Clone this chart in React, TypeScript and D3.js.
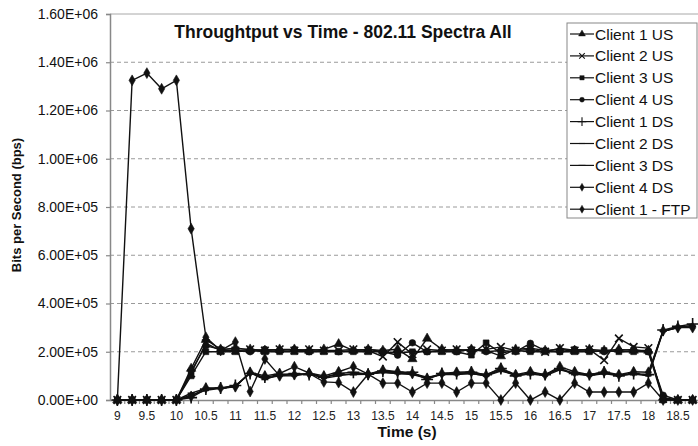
//@ts-nocheck
import * as d3 from "d3";
import React, { useEffect, useRef } from "react";

const times = [
  "9", "9.25", "9.5", "9.75", "10", "10.25", "10.5", "10.75", "11", "11.25",
  "11.5", "11.75", "12", "12.25", "12.5", "12.75", "13", "13.25", "13.5", "13.75",
  "14", "14.25", "14.5", "14.75", "15", "15.25", "15.5", "15.75", "16", "16.25",
  "16.5", "16.75", "17", "17.25", "17.5", "17.75", "18", "18.25", "18.5", "18.75",
];

const yTicks = [0, 200000, 400000, 600000, 800000, 1000000, 1200000, 1400000, 1600000];

const client1US = [0, 0, 0, 0, 0, 130000, 250000, 210000, 215000, 210000, 205000, 210000, 210000, 205000, 210000, 232000, 205000, 210000, 205000, 210000, 170000, 255000, 210000, 205000, 210000, 205000, 182000, 210000, 215000, 205000, 210000, 205000, 210000, 205000, 210000, 205000, 205000, 10000, 0, 0];
const client2US = [0, 0, 0, 0, 0, 110000, 235000, 205000, 205000, 210000, 205000, 210000, 205000, 210000, 205000, 205000, 210000, 205000, 180000, 240000, 190000, 210000, 205000, 210000, 205000, 210000, 220000, 205000, 210000, 200000, 215000, 205000, 210000, 165000, 255000, 220000, 215000, 5000, 0, 0];
const client3US = [0, 0, 0, 0, 0, 100000, 200000, 200000, 200000, 205000, 200000, 200000, 200000, 200000, 200000, 200000, 200000, 200000, 200000, 195000, 200000, 200000, 200000, 200000, 186000, 237000, 195000, 205000, 200000, 200000, 200000, 200000, 200000, 205000, 200000, 200000, 200000, 0, 0, 0];
const client4US = [0, 0, 0, 0, 0, 120000, 225000, 210000, 205000, 200000, 210000, 205000, 210000, 200000, 205000, 200000, 205000, 210000, 200000, 186000, 237000, 200000, 205000, 200000, 210000, 200000, 205000, 200000, 235000, 205000, 200000, 210000, 205000, 200000, 205000, 210000, 200000, 20000, 0, 0];
const client1DS = [0, 0, 0, 0, 0, 10000, 45000, 50000, 60000, 110000, 95000, 105000, 110000, 105000, 95000, 110000, 115000, 107000, 120000, 115000, 115000, 85000, 110000, 110000, 115000, 105000, 130000, 100000, 110000, 105000, 130000, 110000, 105000, 115000, 100000, 110000, 105000, 290000, 305000, 315000];
const client2DS = [0, 0, 0, 0, 0, 20000, 40000, 48000, 55000, 115000, 90000, 100000, 100000, 110000, 90000, 100000, 110000, 107000, 115000, 110000, 105000, 90000, 105000, 105000, 110000, 100000, 125000, 100000, 110000, 100000, 125000, 110000, 100000, 110000, 100000, 110000, 100000, 285000, 300000, 310000];
const client3DS = [0, 0, 0, 0, 0, 28000, 48000, 48000, 58000, 112000, 85000, 105000, 105000, 108000, 95000, 105000, 105000, 107000, 115000, 110000, 110000, 95000, 105000, 110000, 110000, 100000, 120000, 105000, 105000, 105000, 130000, 105000, 105000, 110000, 105000, 105000, 105000, 285000, 300000, 305000];
const client4DS = [0, 0, 0, 0, 0, 15000, 50000, 50000, 55000, 115000, 100000, 110000, 138000, 112000, 100000, 117000, 138000, 107000, 124000, 117000, 110000, 90000, 110000, 115000, 117000, 103000, 132000, 105000, 117000, 105000, 138000, 117000, 105000, 117000, 105000, 117000, 115000, 287000, 300000, 300000];
const client1FTP = [0, 1325000, 1355000, 1290000, 1325000, 710000, 260000, 205000, 240000, 35000, 170000, 100000, 105000, 110000, 75000, 72000, 33000, 107000, 70000, 70000, 33000, 70000, 70000, 33000, 70000, 70000, 0, 70000, 0, 33000, 0, 70000, 33000, 33000, 33000, 33000, 70000, 0, 0, 0];

const seriesNames = ["Client 1 US", "Client 2 US", "Client 3 US", "Client 4 US", "Client 1 DS", "Client 2 DS", "Client 3 DS", "Client 4 DS", "Client 1 - FTP"];
const seriesValues = [client1US, client2US, client3US, client4US, client1DS, client2DS, client3DS, client4DS, client1FTP];
const seriesMarkers = ["triangle", "times", "square", "circle", "plus", "dash", "dash2", "diamond", "diamond"];

const ink = "#111";

const markerPath = (kind, s = 1) => {
  if (kind === "triangle") return d3.symbol(d3.symbolTriangle, 38 * s)();
  if (kind === "times") return d3.symbol(d3.symbolTimes, 40 * s)();
  if (kind === "square") return d3.symbol(d3.symbolSquare, 34 * s)();
  if (kind === "circle") return d3.symbol(d3.symbolCircle, 34 * s)();
  if (kind === "plus") return d3.symbol(d3.symbolPlus, 48 * s)();
  if (kind === "dash") return "M-3,0H3";
  if (kind === "dash2") return "M-3.5,0H3.5";
  return d3.symbol(d3.symbolDiamond, 34 * s)();
};
const isStroke = (kind) => ["times", "plus", "dash", "dash2"].includes(kind);

const chart = () => {
  const width = 698;
  const height = 446;
  const margin = { top: 14, right: -2, bottom: 46, left: 110 };

  const x = d3
    .scaleBand()
    .domain(times)
    .range([margin.left, width - margin.right]);
  const y = d3
    .scaleLinear()
    .domain([0, 1600000])
    .range([height - margin.bottom, margin.top]);

  const svg = d3
    .create("svg")
    .attr("width", width)
    .attr("height", height)
    .attr("viewBox", [0, 0, width, height])
    .attr("style", "display:block; position:absolute; left:0; top:0; background:#fff; font-family: 'Liberation Sans', Arial, sans-serif;");

  // gridlines
  svg
    .append("g")
    .selectAll("line")
    .data(yTicks.filter((d) => d > 0))
    .join("line")
    .attr("x1", margin.left)
    .attr("x2", width)
    .attr("y1", (d) => y(d))
    .attr("y2", (d) => y(d))
    .attr("stroke", (d) => (d === 1600000 ? "#a8a8a8" : "#9a9a9a"))
    .attr("stroke-width", 1)
    .attr("stroke-dasharray", (d) => (d === 1600000 ? null : "4,3"));

  // axes
  const yAxis = d3
    .axisLeft(y)
    .tickValues(yTicks)
    .tickSize(4)
    .tickFormat((d) => d3.format(".2e")(d).toUpperCase().replace(/E([+-])(\d)$/, "E$10$2"));
  const gy = svg
    .append("g")
    .attr("transform", `translate(${margin.left},0)`)
    .call(yAxis);
  gy.select(".domain").attr("stroke", "#888").attr("stroke-width", 1.5);
  gy.selectAll(".tick line").attr("stroke", "#888").attr("stroke-width", 1.2);
  gy.selectAll(".tick text")
    .attr("x", -12)
    .attr("font-size", 14)
    .attr("font-family", "'Liberation Sans', Arial, sans-serif")
    .attr("fill", "#111");

  const xAxis = d3
    .axisBottom(x)
    .tickSize(0)
    .tickFormat((d, i) => (i % 2 === 0 ? d : ""));
  const gx = svg
    .append("g")
    .attr("transform", `translate(0,${y(0)})`)
    .call(xAxis);
  gx.select(".domain").attr("stroke", "#888").attr("stroke-width", 1.5);
  gx.selectAll(".tick line").remove();
  gx.selectAll(".tick text")
    .attr("y", 11)
    .attr("font-size", 12)
    .attr("font-family", "'Liberation Sans', Arial, sans-serif")
    .attr("fill", "#222");
  gx.append("g")
    .selectAll("line")
    .data(times.slice(1))
    .join("line")
    .attr("x1", (d) => x(d))
    .attr("x2", (d) => x(d))
    .attr("y1", 0)
    .attr("y2", 4)
    .attr("stroke", "#888")
    .attr("stroke-width", 1.2);

  // series
  const cx = (i) => x(times[i]) + x.bandwidth() / 2;
  const line = d3
    .line()
    .x((d, i) => cx(i))
    .y((d) => y(d));

  seriesValues.forEach((vals, k) => {
    const kind = seriesMarkers[k];
    const g = svg.append("g");
    g.append("path")
      .attr("d", line(vals))
      .attr("fill", "none")
      .attr("stroke", ink)
      .attr("stroke-width", 1.4);
    g.selectAll("path.m")
      .data(vals)
      .join("path")
      .attr("class", "m")
      .attr("transform", (d, i) => `translate(${cx(i)},${y(d)})`)
      .attr("d", markerPath(kind))
      .attr("fill", isStroke(kind) ? "none" : ink)
      .attr("stroke", ink)
      .attr("stroke-width", isStroke(kind) ? 1.6 : 0.6);
  });

  // legend
  const lg = svg.append("g").attr("transform", "translate(567,23)");
  lg.append("rect")
    .attr("width", 130)
    .attr("height", 195)
    .attr("fill", "#fff")
    .attr("stroke", "#888")
    .attr("stroke-width", 1);
  seriesNames.forEach((name, k) => {
    const kind = seriesMarkers[k];
    const item = lg.append("g").attr("transform", `translate(0,${11 + k * 21.9})`);
    item.append("line")
      .attr("x1", 3)
      .attr("x2", 27)
      .attr("stroke", ink)
      .attr("stroke-width", 1.2);
    item.append("path")
      .attr("transform", "translate(15,0)")
      .attr("d", markerPath(kind, 0.55))
      .attr("fill", isStroke(kind) ? "none" : ink)
      .attr("stroke", ink)
      .attr("stroke-width", isStroke(kind) ? 1.1 : 0.4);
    item.append("text")
      .attr("x", 28)
      .attr("dy", "0.36em")
      .attr("font-size", 15.5)
      .attr("fill", "#111")
      .text(name);
  });

  // titles
  svg.append("text")
    .attr("x", 343)
    .attr("y", 38)
    .attr("text-anchor", "middle")
    .attr("font-weight", "bold")
    .attr("font-size", 17.5)
    .attr("fill", "#111")
    .text("Throughtput vs Time - 802.11 Spectra All");

  svg.append("text")
    .attr("transform", "translate(21,205) rotate(-90)")
    .attr("text-anchor", "middle")
    .attr("font-weight", "bold")
    .attr("font-size", 13)
    .attr("fill", "#111")
    .text("Bits per Second (bps)");

  svg.append("text")
    .attr("x", 407)
    .attr("y", 437)
    .attr("text-anchor", "middle")
    .attr("font-weight", "bold")
    .attr("font-size", 15.5)
    .attr("fill", "#111")
    .text("Time (s)");

  return svg.node();
};

export default function App() {
  const holderRef = useRef<HTMLDivElement | null>(null);

  useEffect(() => {
    const holder = holderRef.current;
    if (!holder || holder.hasChildNodes()) return;
    holder.appendChild(chart());
  }, []);

  return <div ref={holderRef}></div>;
}
